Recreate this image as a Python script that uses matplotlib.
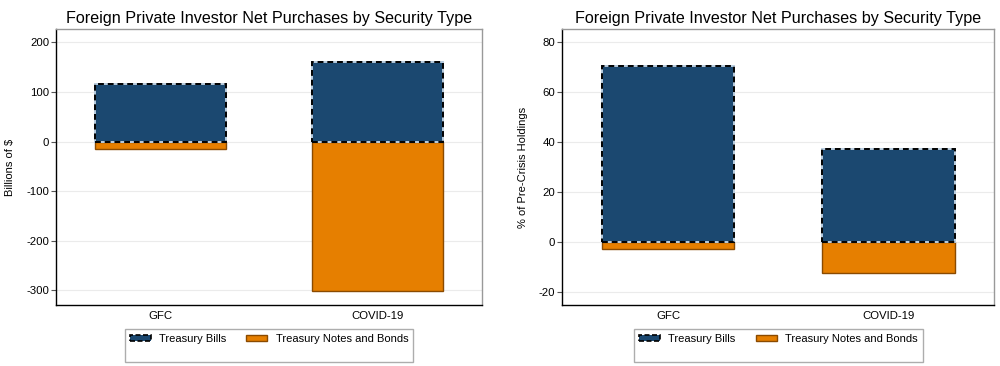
import numpy as np
import matplotlib.pyplot as plt
from matplotlib.patches import Patch

plt.rcParams['font.family'] = ['Liberation Sans', 'DejaVu Sans']
plt.rcParams['axes.unicode_minus'] = False

# data
categories = ['GFC', 'COVID-19']
bills_bn = [116.8, 160.0]
notes_bn = [-14.7, -302.0]
bills_pct = [70.5, 37.2]
notes_pct = [-2.8, -12.6]

title = 'Foreign Private Investor Net Purchases by Security Type'
blue = '#1b4870'
orange = '#e67f00'
orange_edge = '#8a4a00'

fig = plt.figure(figsize=(10, 3.66), dpi=100)
ax1 = fig.add_axes([0.056, 61 / 366, 0.426, 276 / 366])
ax2 = fig.add_axes([0.5623, 61 / 366, 0.432, 276 / 366])

panels = [
    (ax1, bills_bn, notes_bn, 'Billions of $', [-300, -200, -100, 0, 100, 200], (-329.6, 226.8)),
    (ax2, bills_pct, notes_pct, '% of Pre-Crisis Holdings', [-20, 0, 20, 40, 60, 80], (-25.3, 85.2)),
]

x = np.arange(len(categories))
w = 0.6
for ax, bills, notes, ylab, ticks, ylim in panels:
    ax.bar(x, notes, width=w, color=orange, edgecolor=orange_edge, linewidth=1, zorder=3)
    ax.bar(x, bills, width=w, color=blue, edgecolor='#b9cde0', linewidth=1.4, zorder=3)
    ax.bar(x, bills, width=w, fill=False, edgecolor='black', linewidth=1.4,
           linestyle=(0, (3, 2)), zorder=4)
    ax.set_xlim(-0.48, 1.48)
    ax.set_ylim(*ylim)
    ax.set_yticks(ticks)
    ax.set_xticks(x)
    ax.set_xticklabels(categories, fontsize=8.2)
    ax.tick_params(axis='y', labelsize=8.2, color='#555555', length=3.5, width=0.8, pad=1.5)
    ax.tick_params(axis='x', length=0, pad=4)
    ax.yaxis.grid(True, color='#ebebeb', linewidth=0.8, zorder=0)
    ax.set_axisbelow(True)
    ax.set_ylabel(ylab, fontsize=8)
    ax.set_title(title, fontsize=11.6, pad=4)
    for s in ['left', 'bottom']:
        ax.spines[s].set_color('black')
        ax.spines[s].set_linewidth(1.0)
    for s in ['top', 'right']:
        ax.spines[s].set_color('#999999')
        ax.spines[s].set_linewidth(1.0)

    handles = [
        Patch(facecolor=blue, edgecolor='black', linestyle=(0, (3, 1.5)), linewidth=1.2),
        Patch(facecolor='none', edgecolor='none'),
        Patch(facecolor=orange, edgecolor=orange_edge, linewidth=1),
        Patch(facecolor='none', edgecolor='none'),
    ]
    labels = ['Treasury Bills', ' ', 'Treasury Notes and Bonds', ' ']
    leg = ax.legend(handles, labels, ncol=2, loc='upper center',
                    bbox_to_anchor=(0.5, -0.087), fontsize=8, frameon=True,
                    fancybox=False, edgecolor='#999999', handlelength=1.9,
                    handleheight=0.45, handletextpad=0.75, columnspacing=1.8,
                    borderpad=0.45, labelspacing=0.3, borderaxespad=0)
    leg.get_frame().set_linewidth(1.0)

ax1.yaxis.set_label_coords(-0.097, 0.5)
ax2.yaxis.set_label_coords(-0.079, 0.5)

fig.savefig('out.png', dpi=100)
